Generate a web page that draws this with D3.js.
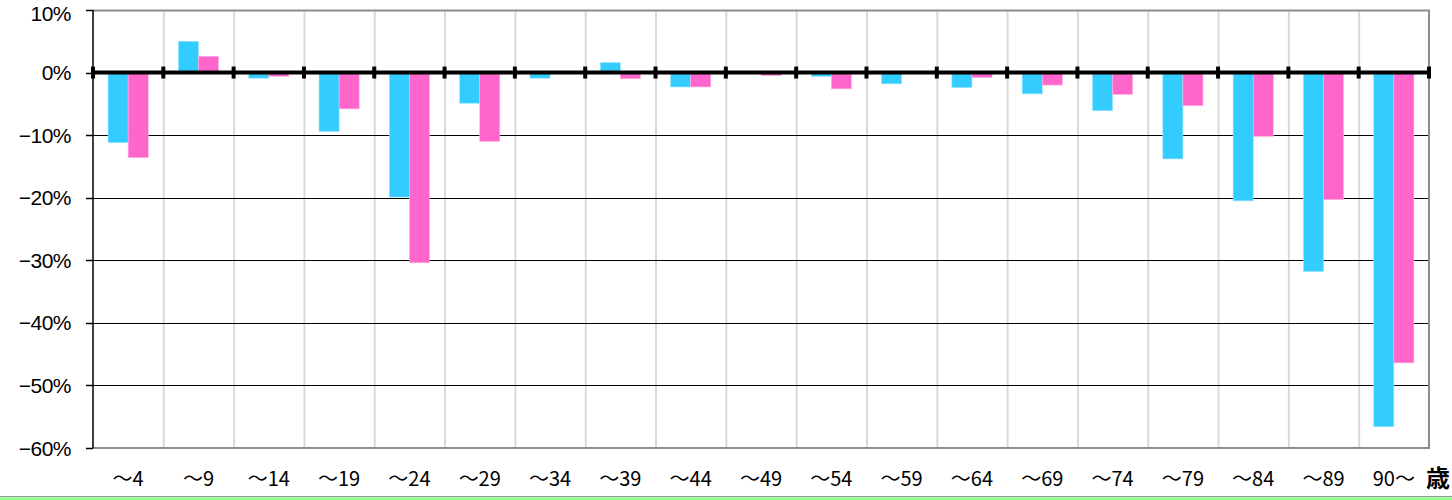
<!DOCTYPE html>
<html>
<head>
<meta charset="utf-8">
<script src="https://cdn.jsdelivr.net/npm/d3@7"></script>
<style>
  html, body { margin: 0; padding: 0; background: #fff; }
  svg { display: block; }
</style>
</head>
<body>
<svg id="chart" width="1452" height="500"></svg>
<script>
// age groups
const categories = ["～4", "～9", "～14", "～19", "～24", "～29", "～34", "～39", "～44", "～49",
  "～54", "～59", "～64", "～69", "～74", "～79", "～84", "～89", "90～"];
// change rate (%), blue & pink series
const blueValues = [-11.2, 5.0, -0.9, -9.4, -19.9, -4.9, -0.9, 1.6, -2.3, -0.1,
  -0.6, -1.8, -2.4, -3.4, -6.1, -13.8, -20.5, -31.8, -56.6];
const pinkValues = [-13.6, 2.6, -0.6, -5.8, -30.4, -11.0, -0.2, -1.0, -2.3, -0.5,
  -2.6, 0, -0.8, -2.0, -3.5, -5.3, -10.2, -20.3, -46.4];
const yTicks = [10, 0, -10, -20, -30, -40, -50, -60];

const svg = d3.select("#chart");
const plotLeft = 93, plotRight = 1429, plotTop = 10, plotBottom = 448;
const font = "'Noto Sans CJK JP', 'Noto Sans', sans-serif";

const x = d3.scaleBand().domain(categories).range([plotLeft, plotRight]).paddingInner(0).paddingOuter(0);
// two bars of ~20px in a ~70px slot
const x1 = d3.scaleBand().domain(["blue", "pink"]).range([0, x.bandwidth()]).paddingOuter(0.75).paddingInner(0);
const y = d3.scaleLinear().domain([-60, 10]).range([plotBottom, plotTop]);

// bottom green strip
svg.append("rect").attr("x", 0).attr("y", 496).attr("width", 1452).attr("height", 4).attr("fill", "#99ff99");
svg.append("line").attr("x1", 0).attr("x2", 1452).attr("y1", 496.5).attr("y2", 496.5)
  .attr("stroke", "#999").attr("stroke-width", 1);

// vertical grid lines
svg.append("g")
  .selectAll("line")
  .data(categories.slice(1))
  .join("line")
  .attr("x1", (d) => x(d) + 0.5)
  .attr("x2", (d) => x(d) + 0.5)
  .attr("y1", plotTop)
  .attr("y2", plotBottom)
  .attr("stroke", "#d9d9d9")
  .attr("stroke-width", 2);

// horizontal grid lines
svg.append("g")
  .selectAll("line")
  .data(yTicks.filter((d) => d !== 0 && d !== 10 && d !== -60))
  .join("line")
  .attr("x1", plotLeft)
  .attr("x2", plotRight)
  .attr("y1", (d) => Math.round(y(d)) + 0.5)
  .attr("y2", (d) => Math.round(y(d)) + 0.5)
  .attr("stroke", "#000")
  .attr("stroke-width", 1);

// plot border (top, right, bottom gray)
svg.append("path")
  .attr("d", `M${plotLeft},${plotTop + 0.5}H${plotRight}V${plotBottom}H${plotLeft}`)
  .attr("fill", "none")
  .attr("stroke", "#8c8c8c")
  .attr("stroke-width", 2);

// bars
const groups = svg.append("g")
  .selectAll("g")
  .data(categories.map((c, i) => ({ cat: c, blue: blueValues[i], pink: pinkValues[i] })))
  .join("g")
  .attr("transform", (d) => `translate(${x(d.cat)},0)`);

groups.selectAll("rect")
  .data((d) => [{ key: "blue", v: d.blue }, { key: "pink", v: d.pink }])
  .join("rect")
  .attr("x", (d) => x1(d.key))
  .attr("width", x1.bandwidth())
  .attr("y", (d) => y(Math.max(0, d.v)))
  .attr("height", (d) => Math.abs(y(d.v) - y(0)))
  .attr("fill", (d) => (d.key === "blue" ? "#33ccff" : "#ff66cc"))
  .attr("stroke", (d) => (d.key === "blue" ? "#99e6ff" : "#ffb3e6"))
  .attr("stroke-width", 0.6);

// left axis line
svg.append("line")
  .attr("x1", plotLeft).attr("x2", plotLeft)
  .attr("y1", plotTop).attr("y2", plotBottom)
  .attr("stroke", "#000").attr("stroke-width", 1.5);
svg.append("g")
  .selectAll("line")
  .data(yTicks)
  .join("line")
  .attr("x1", plotLeft - 7)
  .attr("x2", plotLeft)
  .attr("y1", (d) => Math.round(y(d)) + 0.5)
  .attr("y2", (d) => Math.round(y(d)) + 0.5)
  .attr("stroke", "#000")
  .attr("stroke-width", 1.5);

// zero line with ticks
svg.append("line")
  .attr("x1", plotLeft).attr("x2", plotRight)
  .attr("y1", y(0)).attr("y2", y(0))
  .attr("stroke", "#000").attr("stroke-width", 4);
svg.append("g")
  .selectAll("line")
  .data(categories.map((c) => x(c)).concat([plotRight]))
  .join("line")
  .attr("x1", (d) => d)
  .attr("x2", (d) => d)
  .attr("y1", y(0) - 6)
  .attr("y2", y(0) + 6)
  .attr("stroke", "#000")
  .attr("stroke-width", 4);

// y labels
svg.append("g")
  .selectAll("text")
  .data(yTicks)
  .join("text")
  .attr("x", 71)
  .attr("y", (d) => Math.max(y(d) + 7.5, 21))
  .attr("text-anchor", "end")
  .attr("font-family", "'Liberation Sans', Arial, sans-serif")
  .attr("font-size", 21)
  .attr("letter-spacing", -0.5)
  .attr("fill", "#000")
  .text((d) => (d < 0 ? "−" + Math.abs(d) : d) + "%");

// x labels
svg.append("g")
  .selectAll("text")
  .data(categories)
  .join("text")
  .attr("x", (d) => x(d) + x.bandwidth() / 2)
  .attr("y", 486)
  .attr("text-anchor", "middle")
  .attr("font-family", font)
  .attr("font-size", 20)
  .attr("fill", "#000")
  .text((d) => d);

svg.append("text")
  .attr("x", 1438)
  .attr("y", 487)
  .attr("text-anchor", "middle")
  .attr("font-family", font)
  .attr("font-size", 24)
  .attr("font-weight", "bold")
  .attr("fill", "#000")
  .text("歳");
</script>
</body>
</html>
